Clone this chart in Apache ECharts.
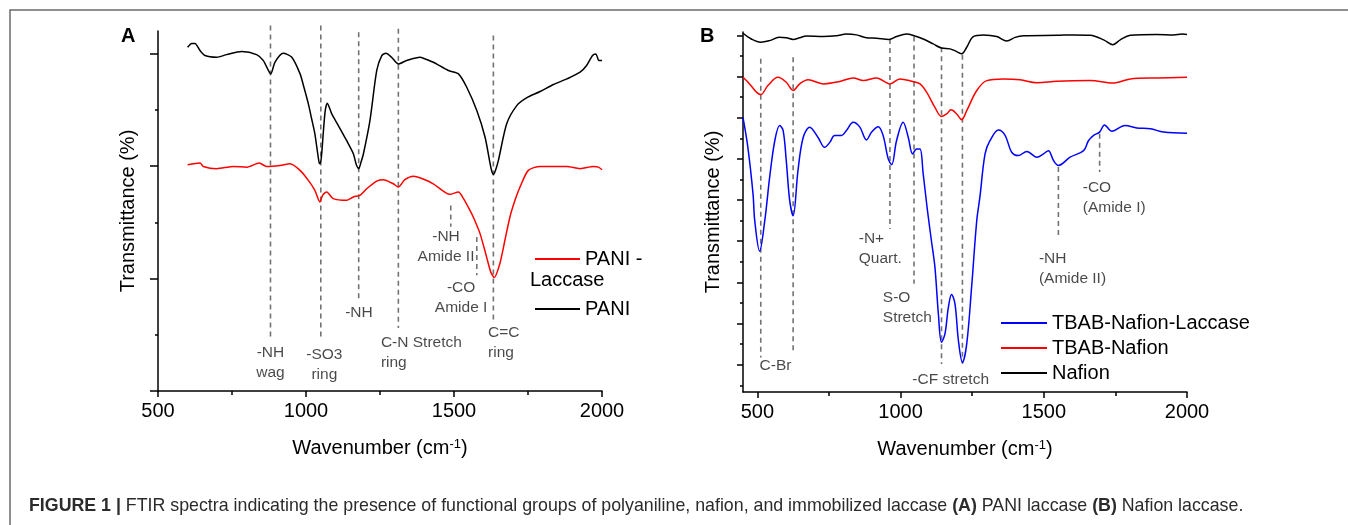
<!DOCTYPE html>
<html>
<head>
<meta charset="utf-8">
<script src="https://cdn.jsdelivr.net/npm/echarts@6/dist/echarts.min.js"></script>
<style>
html,body{margin:0;padding:0;background:#fff;}
#chart{width:1348px;height:525px;}
</style>
</head>
<body>
<div id="chart"></div>
<script>
// ---------------- DATA ----------------
// Panel A: PANI (black) and PANI - Laccase (red); [wavenumber, transmittance (a.u.)]
const paniA = [[600,30.55],[614,30.9],[625,30.9],[642,30.26],[659,29.82],[698,29.67],[732,29.9],[783,30.17],[833,29.9],[856,29.37],[881,28.19],[895,29.22],[923,30.02],[952,29.67],[980,28.19],[993,27.0],[1008,25.52],[1019,24.2],[1030,22.86],[1038,21.39],[1044,20.35],[1047,20.2],[1052,20.8],[1059,23.16],[1065,24.93],[1072,25.58],[1087,24.63],[1106,23.75],[1137,22.27],[1160,21.09],[1169,20.2],[1178,19.76],[1186,20.35],[1194,21.09],[1216,24.04],[1239,28.49],[1256,29.82],[1270,30.02],[1289,29.67],[1312,29.07],[1340,29.37],[1385,29.67],[1402,29.52],[1430,29.22],[1481,28.49],[1515,28.19],[1543,27.0],[1577,24.93],[1605,22.56],[1622,20.2],[1627,19.6],[1633,19.25],[1640,19.6],[1650,20.5],[1678,23.75],[1712,25.37],[1745,26.06],[1791,26.62],[1836,27.24],[1881,27.74],[1926,28.34],[1948,28.93],[1968,29.82],[1979,29.96],[1990,29.37],[2000,29.37]];
const paniLaccaseA = [[600,20.11],[642,20.26],[653,19.96],[698,19.76],[755,19.96],[800,19.9],[842,20.26],[867,19.96],[912,20.05],[946,20.2],[980,19.61],[1008,18.72],[1030,17.84],[1047,16.8],[1056,17.39],[1070,17.69],[1092,17.1],[1137,16.95],[1160,17.25],[1182,17.39],[1205,17.98],[1239,18.66],[1261,18.78],[1295,18.42],[1312,18.13],[1334,18.78],[1363,19.08],[1402,18.78],[1430,18.42],[1486,17.48],[1515,17.69],[1532,17.1],[1554,16.06],[1565,15.47],[1588,13.99],[1610,11.92],[1624,10.59],[1636,10.09],[1655,11.33],[1672,13.4],[1689,15.47],[1706,16.95],[1723,18.13],[1751,19.61],[1791,19.96],[1881,19.96],[1926,19.76],[1971,19.96],[1988,19.9],[2000,19.67]];
// Panel B: Nafion (black), TBAB-Nafion (red), TBAB-Nafion-Laccase (blue)
const nafionB = [[450,80.5],[479,79.1],[512,78.3],[543,78.7],[576,79.5],[601,79.4],[625,79.0],[648,79.4],[671,79.8],[730,79.7],[776,79.9],[811,80.3],[846,80.1],[881,79.4],[916,79.3],[960,79.0],[986,79.7],[1021,80.3],[1047,79.9],[1079,79.1],[1114,77.9],[1143,76.9],[1173,76.7],[1196,76.05],[1213,75.5],[1231,77.1],[1254,79.7],[1289,80.1],[1336,79.7],[1371,78.6],[1400,79.5],[1429,79.9],[1546,80.0],[1604,80.1],[1662,80.0],[1709,78.9],[1741,77.7],[1767,78.9],[1802,80.0],[1895,80.2],[1953,80.1],[1983,80.3],[2000,80.2]];
const tbabNafionB = [[450,69.8],[473,68.2],[497,66.2],[512,65.6],[537,67.8],[572,69.8],[601,68.6],[625,66.6],[648,68.2],[677,69.2],[730,68.2],[788,68.8],[835,69.65],[870,69.0],[916,69.65],[963,68.2],[998,69.4],[1039,68.85],[1068,68.2],[1091,66.2],[1120,62.5],[1143,60.3],[1161,60.9],[1176,61.9],[1196,60.9],[1213,59.5],[1231,61.7],[1266,66.6],[1301,69.0],[1359,69.4],[1417,69.2],[1476,68.5],[1546,68.85],[1662,69.0],[1741,68.4],[1802,69.4],[1895,69.65],[2000,69.8]];
const tbabNafionLaccaseB = [[450,60.0],[467,52.8],[485,41.5],[491,35.0],[508,27.6],[526,35.0],[543,45.5],[561,54.4],[578,58.1],[590,56.9],[601,49.6],[613,39.9],[625,36.2],[642,47.2],[660,55.2],[683,57.7],[712,55.2],[735,52.8],[753,54.0],[770,55.7],[794,55.7],[811,56.9],[835,58.9],[858,57.7],[881,54.6],[899,56.5],[922,57.8],[939,55.7],[957,50.0],[969,48.6],[986,54.4],[1009,58.9],[1027,55.2],[1042,51.2],[1056,52.4],[1068,52.4],[1079,46.4],[1093,38.0],[1108,30.0],[1120,23.7],[1132,12.4],[1143,5.5],[1155,7.5],[1167,14.0],[1178,17.1],[1190,14.8],[1202,5.9],[1216,0.6],[1231,5.1],[1248,18.8],[1266,35.0],[1277,40.7],[1295,51.2],[1312,54.4],[1342,57.0],[1365,55.7],[1388,51.6],[1411,50.8],[1441,51.8],[1476,50.4],[1499,51.2],[1516,52.0],[1534,49.6],[1551,48.4],[1592,50.4],[1639,52.0],[1656,54.4],[1674,55.7],[1695,56.5],[1712,58.25],[1738,56.7],[1784,58.1],[1825,57.5],[1872,57.3],[1918,56.5],[2000,56.2]];

// Marked bands (wavenumber) and their labels
const peaksA = [880, 1050, 1178, 1312, 1633, 1489, 1577];
const peakLabelsA = ['-NH\nwag', '-SO3\nring', '-NH', 'C-N Stretch\nring', 'C=C\nring', '-NH\nAmide II', '-CO\nAmide I'];
const peaksB = [512, 625, 963, 1047, 1143, 1216, 1551, 1695];
const peakLabelsB = ['C-Br', '-N+\nQuart.', 'S-O\nStretch', '-CF stretch', '-NH\n(Amide II)', '-CO\n(Amide I)'];

// Tick values
const xTicksMajor = [500, 1000, 1500, 2000];
const xTicksMinor = [750, 1250, 1750];
const yTicksMajorA = [0, 10, 20, 30];
const yTicksMinorA = [5, 15, 25];
const yTicksMajorB = [0, 10, 20, 30, 40, 50, 60, 70, 80];
const yTicksMinorB = [-5, 5, 15, 25, 35, 45, 55, 65, 75];

// ---------------- LAYOUT (not data) ----------------
const dashSpanA = [[32.5,4.5],[32.5,4.5],[31.9,7.9],[32.2,5.6],[31.6,6.3],[16.5,14.6],[13.7,10.3]];
const labelPosA = [[880,4.27,'center'],[1062,4.09,'center'],[1179,7.82,'center'],[1253,5.16,'left'],[1615,6.04,'left'],[1473,14.58,'center'],[1524,10.04,'center']];
const dashSpanB = [[74.3,1.8],[74.7,2.7],[79.1,33.0],[79.7,19.7],[77.1,0.2],[75.3,0.2],[48.0,30.6],[56.1,46.8]];
const labelPosB = [[508,2.09,'left'],[854,33.0,'left'],[938,18.8,'left'],[1175,-1.14,'center'],[1483,28.2,'left'],[1636,45.5,'left']];

const FONT = '"Liberation Sans", Arial, Helvetica, sans-serif';
const AX = {color:'#000', width:1.5};
const nameRich = {sup:{fontSize:13, fontFamily:FONT, color:'#000', verticalAlign:'top', padding:[0,0,8,0]}};

function xMain(grid, min){
  return {
    gridIndex: grid, type:'value', min:min, max:2000,
    interval: grid === 0 ? 500 : undefined,
    axisLine:{onZero:false, lineStyle:AX},
    axisTick:{length:6, lineStyle:AX, customValues: grid === 1 ? xTicksMajor : undefined},
    minorTick: grid === 0 ? {show:true, splitNumber:2, length:4, lineStyle:AX} : {show:false},
    axisLabel:{fontSize:20, color:'#000', fontFamily:FONT, margin:10, formatter:(v)=>String(v),
      customValues: grid === 1 ? xTicksMajor : undefined},
    splitLine:{show:false}, minorSplitLine:{show:false},
    name:'Wavenumber (cm{sup|-1})', nameLocation:'middle', nameGap:47,
    nameTextStyle:{fontSize:20, color:'#000', fontFamily:FONT, rich:nameRich}
  };
}
function xMinorB(){
  return {gridIndex:1, type:'value', min:450, max:2000, position:'bottom',
    axisLine:{show:false, onZero:false}, axisTick:{length:4, lineStyle:AX, customValues:xTicksMinor},
    axisLabel:{show:false}, splitLine:{show:false}};
}
function yAxis(grid, min, max, ticks, len, main){
  return {gridIndex:grid, type:'value', min:min, max:max, position:'left',
    axisLine:{show:main, onZero:false, lineStyle:AX},
    axisTick:{length:len, lineStyle:AX, customValues:ticks},
    axisLabel:{show:false}, splitLine:{show:false},
    name: main ? 'Transmittance (%)' : '', nameLocation:'middle', nameGap:20,
    nameTextStyle:{fontSize:20, color:'#000', fontFamily:FONT}};
}

function curve(name, data, color, xi, yi, smooth){
  return {name:name, type:'line', data:data, xAxisIndex:xi, yAxisIndex:yi, symbol:'none', showSymbol:false,
    smooth:smooth, color:color, lineStyle:{color:color, width:1.5}, z:3, silent:true};
}
function dashes(peaks, spans, xi, yi){
  return peaks.map((p,i)=>({type:'line', xAxisIndex:xi, yAxisIndex:yi, data:[[p,spans[i][0]],[p,spans[i][1]]],
    symbol:'none', clip:false, silent:true, z:2,
    lineStyle:{color:'#737373', width:1.6, type:[5,4]}}));
}
function labels(texts, pos, xi, yi){
  return {type:'scatter', xAxisIndex:xi, yAxisIndex:yi, symbolSize:0, silent:true, z:4, clip:false,
    data: texts.map((t,i)=>({value:[pos[i][0], pos[i][1]],
      label:{show:true, formatter:t, position:'bottom', distance:0, align:pos[i][2],
        fontSize:15.5, lineHeight:20, color:'#1a1a1a', fontFamily:FONT}}))};
}

const option = {
  animation:false,
  backgroundColor:'#ffffff',
  grid:[{left:158, top:31, width:444, height:360}, {left:743, top:32, width:444, height:360}],
  xAxis:[xMain(0,500), xMain(1,450), xMinorB()],
  yAxis:[yAxis(0,0,32,yTicksMajorA,8,true), yAxis(0,0,32,yTicksMinorA,3,false),
         yAxis(1,-6.6,80.8,yTicksMajorB,6,true), yAxis(1,-6.6,80.8,yTicksMinorB,3,false)],
  legend:[
    {data:['PANI - Laccase'], formatter:()=> 'PANI -', left:530, top:244, icon:'rect', itemWidth:45, itemHeight:2,
      textStyle:{fontSize:20, lineHeight:20, color:'#000', fontFamily:FONT}, selectedMode:false},
    {data:['PANI'], left:530, top:294, icon:'rect', itemWidth:45, itemHeight:2,
      textStyle:{fontSize:20, lineHeight:20, color:'#000', fontFamily:FONT}, selectedMode:false},
    {data:['TBAB-Nafion-Laccase','TBAB-Nafion','Nafion'], orient:'vertical', left:996, top:308, itemGap:5,
      icon:'rect', itemWidth:46, itemHeight:2,
      textStyle:{fontSize:20, lineHeight:20, color:'#000', fontFamily:FONT}, selectedMode:false}
  ],
  series:[
    ...dashes(peaksA, dashSpanA, 0, 0),
    ...dashes(peaksB, dashSpanB, 1, 2),
    curve('PANI', paniA, '#000000', 0, 0, 0.25),
    curve('PANI - Laccase', paniLaccaseA, '#ff0000', 0, 0, 0.25),
    curve('Nafion', nafionB, '#000000', 1, 2, 0.35),
    curve('TBAB-Nafion', tbabNafionB, '#ff0000', 1, 2, 0.35),
    curve('TBAB-Nafion-Laccase', tbabNafionLaccaseB, '#0000ff', 1, 2, 0.35),
    labels(peakLabelsA, labelPosA, 0, 0),
    labels(peakLabelsB, labelPosB, 1, 2)
  ],
  graphic:[
    {type:'polyline', silent:true, shape:{points:[[10,525],[10,10],[1348,10]]}, style:{stroke:'#6b6b6b', lineWidth:1.5, fill:null}},
    {type:'text', left:121, top:26, style:{text:'A', fill:'#000', font:'bold 20px '+FONT}},
    {type:'text', left:700, top:26, style:{text:'B', fill:'#000', font:'bold 20px '+FONT}},
    {type:'text', left:530, top:270, style:{text:'Laccase', fill:'#000', font:'20px '+FONT}},
    {type:'text', left:29, top:497, style:{
      text:'{b|FIGURE 1 |} FTIR spectra indicating the presence of functional groups of polyaniline, nafion, and immobilized laccase {b|(A)} PANI laccase {b|(B)} Nafion laccase.',
      fill:'#2b2b2b', font:'17.8px '+FONT,
      rich:{b:{fontWeight:'bold', fontSize:17.8, fontFamily:FONT, fill:'#2b2b2b'}}}}
  ]
};

const chart = echarts.init(document.getElementById('chart'), null, {renderer:'canvas'});
chart.setOption(option);
</script>
</body>
</html>
